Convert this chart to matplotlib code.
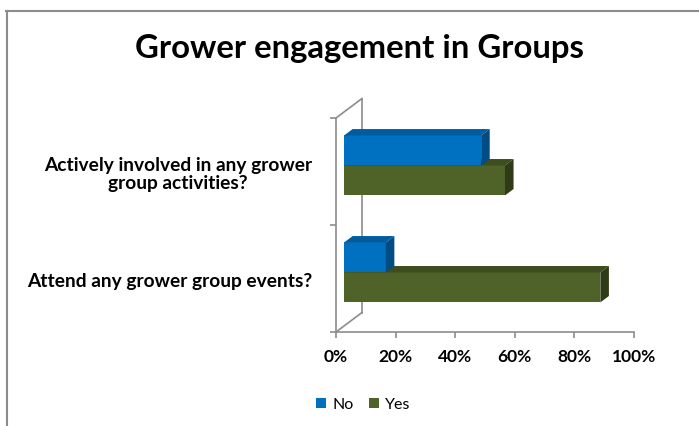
import matplotlib
matplotlib.use("Agg")
import matplotlib.pyplot as plt
from matplotlib.patches import Polygon, Patch
from matplotlib.lines import Line2D
from matplotlib.transforms import offset_copy

plt.rcParams['font.family'] = ['Lato', 'DejaVu Sans']
plt.rcParams['font.weight'] = 'bold'

# data (bottom category first, as Excel draws bar charts)
categories = ["Attend any grower group events?",
              "Actively involved in any grower\ngroup activities?"]
series_names = ["No", "Yes"]
no_vals = [14, 46]
yes_vals = [86, 54]
xticks = [0, 20, 40, 60, 80, 100]

blue = "#0070C0"
blue_top = "#005C9E"
blue_side = "#004C84"
green = "#4F6228"
green_top = "#3E4D1F"
green_side = "#2F3B17"
axis_col = "#8C8C8C"

fig = plt.figure(figsize=(6.99, 4.26), dpi=100)
ax = fig.add_axes([336/699, 1 - 332/426, 298/699, 214/426])
ax.set_xlim(0, 100)
ax.set_ylim(-0.5, 1.5)

# 3d depth of the plot, in data units
Dx = 26 / 298 * 100
Dy = 19.5 / 107
f0 = 0.31      # where bars start in depth
fd = 0.33      # bar depth
h = 0.28       # bar thickness


def bar3d(y, val, face, top, side, z):
    x0 = f0 * Dx
    yc = y + f0 * Dy
    ax.barh(yc, val, left=x0, height=h, color=face, zorder=z, clip_on=False)
    yt = yc + h / 2
    yb = yc - h / 2
    x1 = x0 + val
    ddx, ddy = fd * Dx, fd * Dy
    ax.add_patch(Polygon([(x0, yt), (x1, yt), (x1 + ddx, yt + ddy), (x0 + ddx, yt + ddy)],
                         closed=True, facecolor=top, edgecolor='none', zorder=z, clip_on=False))
    ax.add_patch(Polygon([(x1, yb), (x1, yt), (x1 + ddx, yt + ddy), (x1 + ddx, yb + ddy)],
                         closed=True, facecolor=side, edgecolor='none', zorder=z, clip_on=False))


z = 3
for i in range(len(categories)):
    bar3d(i - h / 2, yes_vals[i], green, green_top, green_side, z)
    bar3d(i + h / 2, no_vals[i], blue, blue_top, blue_side, z + 1)
    z += 2

# back wall edges
lw = 1.2
ax.plot([Dx, Dx], [-0.5 + Dy, 1.5 + Dy], color=axis_col, lw=lw, clip_on=False, zorder=1)
ax.plot([0, Dx], [-0.5, -0.5 + Dy], color=axis_col, lw=lw, clip_on=False, zorder=1)
ax.plot([0, Dx], [1.5, 1.5 + Dy], color=axis_col, lw=lw, clip_on=False, zorder=1)

for s in ['top', 'right']:
    ax.spines[s].set_visible(False)
for s in ['left', 'bottom']:
    ax.spines[s].set_color(axis_col)
    ax.spines[s].set_linewidth(lw)

ax.set_xticks(xticks)
ax.set_xticklabels([f"{t}%" for t in xticks], fontsize=12.5, fontweight='bold')
ax.tick_params(axis='x', length=4, width=lw, color=axis_col, pad=8)

ax.set_yticks([-0.5, 0.5, 1.5])
ax.set_yticklabels([])
ax.tick_params(axis='y', length=4, width=lw, color=axis_col)

# category labels, centred lines, right edge 24px left of the axis
lab_tr = offset_copy(ax.get_yaxis_transform(), fig=fig, x=-24, y=-3, units='dots')
for i, c in enumerate(categories):
    ax.text(0, i, c, transform=lab_tr, ha='right', va='center', multialignment='center',
            fontsize=13.8, fontweight='bold', linespacing=1.05)

fig.text(0.514, 1 - 58/426, "Grower engagement in Groups", ha='center', va='baseline',
         fontsize=23.7, fontweight='bold')

handles = [Patch(facecolor=blue), Patch(facecolor=green)]
fig.legend(handles, series_names, loc='center', bbox_to_anchor=(0.52, 1 - 405/426),
           ncol=2, frameon=False, handlelength=0.6, handleheight=0.6,
           handletextpad=0.4, columnspacing=1.0, prop={'weight': 'normal', 'size': 11.5})

# chart area border (left and top)
fig.add_artist(Line2D([7/699, 7/699], [0, 1 - 11/426], transform=fig.transFigure,
                      color=axis_col, lw=1.5))
fig.add_artist(Line2D([6/699, 1], [1 - 11/426, 1 - 11/426], transform=fig.transFigure,
                      color=axis_col, lw=1.5))

fig.savefig("out.png", dpi=100)
